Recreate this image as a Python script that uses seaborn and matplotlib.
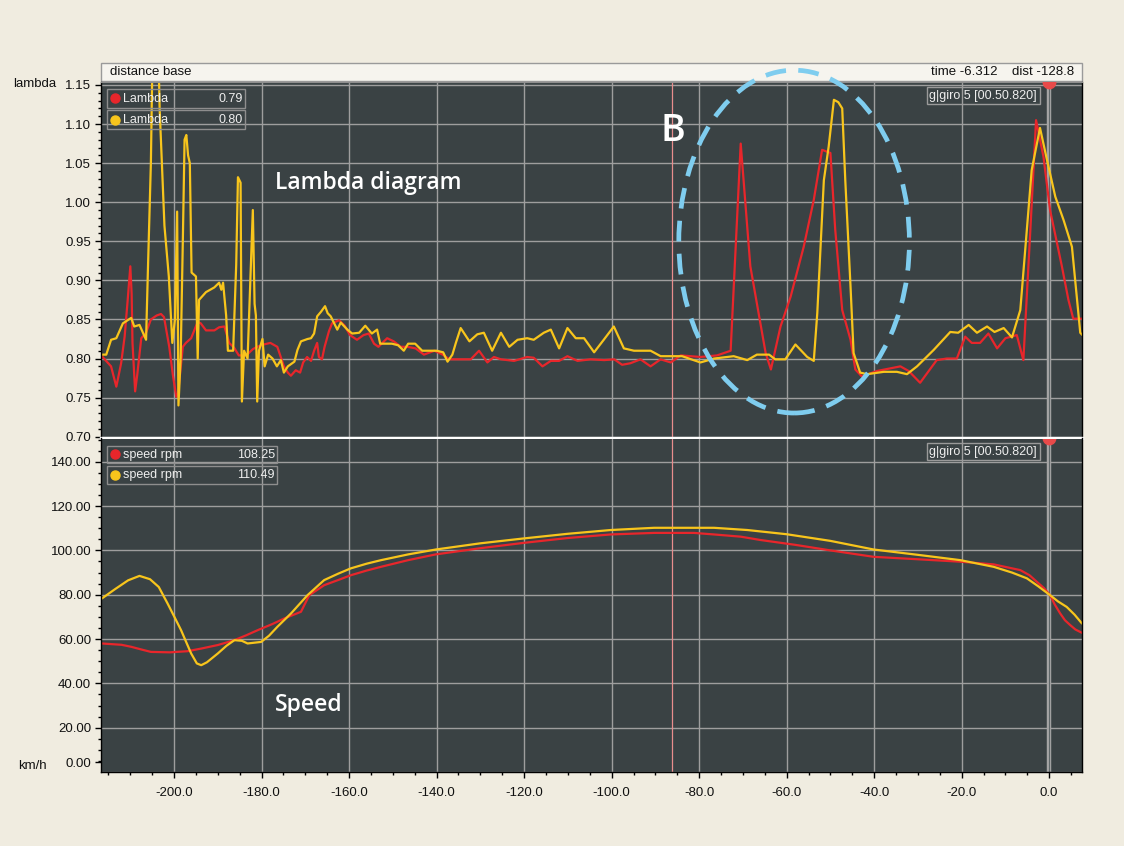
import numpy as np
import seaborn as sns
import matplotlib.pyplot as plt
from matplotlib import transforms
from matplotlib.lines import Line2D
from matplotlib.patches import Rectangle, Ellipse
from matplotlib.ticker import MultipleLocator, FormatStrFormatter

# ---- lambda traces (distance [m], lambda) ----
lam_red_x = [-216.5, -214.4, -213.2, -212.1, -211.3, -210.6, -210.0, -209.7, -209.5, -208.9,
             -208.4, -207.5, -206.4, -205.3, -204.0, -203.0, -202.3, -201.1, -200.3, -199.5,
             -199.1, -198.0, -197.3, -196.1, -194.6, -193.9, -192.7, -190.8, -189.7, -188.5,
             -187.4, -186.3, -185.2, -183.5, -182.0, -181.0, -179.5, -178.0, -176.4, -174.9,
             -174.0, -173.3, -172.2, -171.2, -170.5, -169.6, -168.7, -168.0, -167.3, -166.9,
             -166.2, -165.6, -164.6, -163.9, -162.3, -161.0, -159.8, -158.2, -156.7, -155.5,
             -154.3, -153.3, -151.3, -149.8, -148.2, -146.7, -144.8, -142.9, -140.5, -138.6,
             -137.1, -134.5, -132.2, -130.3, -128.4, -126.9, -125.3, -122.3, -119.3, -117.8,
             -115.8, -113.9, -112.0, -110.1, -107.8, -104.8, -101.7, -99.4, -97.6, -95.7,
             -93.4, -91.1, -88.8, -86.5, -84.2, -79.7, -75.9, -72.8, -70.5, -68.3,
             -64.8, -63.6, -61.4, -59.1, -56.1, -53.8, -51.9, -50.0, -48.9, -47.3,
             -45.4, -44.3, -42.8, -39.4, -34.0, -32.1, -29.5, -25.7, -23.4, -21.1,
             -19.2, -17.7, -15.8, -13.9, -11.9, -10.0, -7.4, -5.9, -4.3, -3.0,
             -1.3, 0.2, 2.9, 4.4, 5.5, 7.6]
lam_red_y = [0.803, 0.790, 0.764, 0.794, 0.828, 0.875, 0.918, 0.883, 0.820, 0.758,
             0.780, 0.826, 0.833, 0.850, 0.855, 0.857, 0.853, 0.815, 0.780, 0.751,
             0.755, 0.815, 0.820, 0.826, 0.847, 0.845, 0.836, 0.836, 0.840, 0.841,
             0.820, 0.814, 0.804, 0.804, 0.812, 0.815, 0.818, 0.820, 0.815, 0.790,
             0.782, 0.778, 0.785, 0.782, 0.795, 0.802, 0.797, 0.810, 0.820, 0.802,
             0.799, 0.815, 0.835, 0.845, 0.849, 0.842, 0.830, 0.824, 0.830, 0.832,
             0.819, 0.815, 0.826, 0.822, 0.815, 0.815, 0.813, 0.805, 0.810, 0.805,
             0.799, 0.799, 0.799, 0.810, 0.795, 0.802, 0.799, 0.797, 0.802, 0.801,
             0.790, 0.797, 0.797, 0.803, 0.797, 0.799, 0.798, 0.799, 0.792, 0.794,
             0.799, 0.790, 0.799, 0.795, 0.804, 0.802, 0.804, 0.810, 1.075, 0.918,
             0.807, 0.786, 0.841, 0.879, 0.943, 1.003, 1.067, 1.063, 0.965, 0.862,
             0.824, 0.786, 0.777, 0.784, 0.790, 0.784, 0.769, 0.798, 0.800, 0.800,
             0.828, 0.820, 0.820, 0.832, 0.813, 0.826, 0.830, 0.798, 0.965, 1.105,
             1.058, 0.990, 0.918, 0.875, 0.851, 0.851]

lam_yel_x = [-216.5, -215.5, -214.4, -213.2, -211.7, -209.8, -209.1, -207.9, -206.4, -206.0,
             -205.3, -204.9, -203.6, -203.3, -202.8, -202.2, -201.2, -200.4, -199.8, -199.3,
             -199.0, -198.5, -198.0, -197.6, -197.2, -196.8, -196.4, -196.0, -195.0, -194.6,
             -194.3, -192.7, -190.8, -189.7, -189.2, -188.8, -188.1, -187.7, -186.5, -185.8,
             -185.4, -184.8, -184.5, -184.0, -183.2, -182.0, -181.6, -181.3, -181.0, -180.6,
             -179.8, -179.3, -178.5, -177.5, -176.5, -175.6, -174.9, -174.0, -172.5, -171.8,
             -171.0, -169.5, -168.7, -168.0, -167.3, -166.4, -165.5, -164.9, -164.2, -163.4,
             -162.7, -161.9, -160.4, -159.3, -157.7, -156.3, -154.8, -153.6, -152.9, -150.2,
             -148.8, -147.5, -146.5, -144.9, -143.3, -140.0, -138.5, -137.5, -136.4, -135.6,
             -134.5, -132.5, -130.7, -129.2, -127.3, -125.3, -123.4, -121.5, -119.3, -117.8,
             -115.5, -113.9, -112.0, -110.1, -108.2, -106.3, -104.0, -101.8, -99.5, -97.2,
             -94.9, -91.1, -88.8, -83.9, -79.7, -76.6, -72.1, -69.0, -66.8, -64.0,
             -62.6, -60.3, -58.0, -55.3, -53.8, -53.0, -51.5, -50.4, -49.2, -48.2,
             -47.3, -46.6, -45.4, -44.7, -43.2, -41.6, -37.8, -34.8, -32.5, -30.2,
             -26.4, -22.6, -20.8, -18.4, -16.5, -14.2, -12.5, -10.4, -8.5, -6.6,
             -5.1, -4.0, -2.1, -0.5, 1.4, 3.3, 5.2, 6.3, 7.1, 7.6]
lam_yel_y = [0.805, 0.805, 0.824, 0.826, 0.845, 0.852, 0.841, 0.843, 0.824, 0.909,
             1.050, 1.200, 1.200, 1.120, 1.052, 0.970, 0.905, 0.820, 0.850, 0.988,
             0.740, 0.800, 0.950, 1.080, 1.086, 1.060, 1.050, 0.910, 0.905, 0.800,
             0.875, 0.885, 0.891, 0.897, 0.888, 0.897, 0.855, 0.810, 0.810, 0.920,
             1.032, 1.025, 0.745, 0.810, 0.800, 0.990, 0.870, 0.855, 0.745, 0.810,
             0.825, 0.790, 0.805, 0.800, 0.790, 0.798, 0.782, 0.790, 0.796, 0.811,
             0.822, 0.825, 0.826, 0.832, 0.854, 0.860, 0.867, 0.858, 0.854, 0.845,
             0.837, 0.846, 0.837, 0.832, 0.833, 0.842, 0.832, 0.837, 0.819, 0.819,
             0.817, 0.810, 0.819, 0.819, 0.810, 0.810, 0.808, 0.796, 0.805, 0.820,
             0.839, 0.822, 0.831, 0.833, 0.810, 0.833, 0.815, 0.824, 0.826, 0.824,
             0.833, 0.837, 0.813, 0.839, 0.826, 0.826, 0.808, 0.824, 0.841, 0.813,
             0.810, 0.810, 0.803, 0.803, 0.795, 0.800, 0.803, 0.798, 0.805, 0.805,
             0.799, 0.799, 0.818, 0.802, 0.797, 0.858, 1.028, 1.071, 1.131, 1.128,
             1.120, 1.028, 0.892, 0.807, 0.782, 0.780, 0.783, 0.783, 0.780, 0.790,
             0.811, 0.834, 0.833, 0.843, 0.833, 0.841, 0.834, 0.839, 0.827, 0.862,
             0.965, 1.041, 1.095, 1.054, 1.007, 0.977, 0.943, 0.879, 0.833, 0.830]

# ---- speed traces (distance [m], km/h) ----
spd_red_x = [-216.5, -212.0, -209.8, -207.5, -205.3, -201.0, -197.0, -193.8, -190.0, -186.2,
             -183.5, -180.9, -177.5, -174.8, -171.0, -169.1, -165.7, -162.0, -159.6, -156.0,
             -152.7, -146.5, -140.2, -130.0, -120.1, -110.0, -100.2, -90.3, -81.2, -76.6,
             -70.5, -66.0, -58.0, -50.0, -40.1, -30.0, -20.3, -12.7, -6.6, -4.5,
             -2.8, -1.2, 0.2, 1.3, 2.5, 3.6, 4.8, 6.0, 7.5]
spd_red_y = [58.0, 57.4, 56.5, 55.3, 54.2, 54.0, 54.5, 55.7, 57.3, 59.5,
             61.7, 64.0, 66.8, 69.3, 72.3, 79.8, 84.3, 87.0, 88.8, 90.9,
             92.6, 95.6, 98.2, 101.0, 103.4, 105.6, 107.2, 107.9, 107.9, 107.2,
             106.2, 104.7, 102.5, 100.0, 97.1, 96.0, 94.9, 93.7, 91.1, 88.8,
             85.8, 83.0, 79.8, 75.5, 71.6, 68.5, 66.3, 64.3, 62.8]

spd_yel_x = [-216.5, -213.5, -210.5, -207.9, -205.5, -203.5, -201.5, -199.8, -198.4, -197.2,
             -196.1, -194.8, -193.8, -192.5, -190.0, -188.0, -186.2, -184.5, -183.2, -180.1,
             -178.3, -176.4, -173.3, -169.5, -165.7, -162.5, -159.6, -156.0, -152.7, -146.5,
             -140.2, -130.0, -120.1, -110.0, -100.2, -90.3, -76.6, -69.0, -60.0, -50.0,
             -40.1, -30.0, -20.3, -12.7, -8.5, -5.1, -2.5, 0.2, 2.0, 4.0,
             5.8, 7.5]
spd_yel_y = [78.3, 82.5, 86.5, 88.5, 87.0, 83.5, 76.1, 69.5, 64.0, 58.5,
             53.5, 49.0, 48.2, 49.5, 53.5, 57.0, 59.5, 59.2, 58.0, 58.7,
             61.5, 65.5, 71.5, 79.8, 86.6, 89.5, 91.9, 94.0, 95.6, 98.2,
             100.4, 103.2, 105.4, 107.5, 109.2, 110.2, 110.2, 109.2, 107.3, 104.3,
             100.4, 98.0, 95.6, 92.6, 90.0, 87.4, 83.8, 79.8, 77.0, 74.5,
             71.0, 67.0]

lam_ticks = [0.70, 0.75, 0.80, 0.85, 0.90, 0.95, 1.00, 1.05, 1.10, 1.15]
spd_ticks = [0, 20, 40, 60, 80, 100, 120, 140]
dist_ticks = [-200, -180, -160, -140, -120, -100, -80, -60, -40, -20, 0]

RED = '#e8262b'
YEL = '#f8c51c'
PANEL = '#3a4244'
GRID = '#9e9e9e'
BEIGE = '#f0ece0'

sns.set_style('ticks')
plt.rcParams['font.family'] = ['Liberation Sans', 'DejaVu Sans']
plt.rcParams['axes.unicode_minus'] = False

W, H = 1124, 846
fig = plt.figure(figsize=(W / 100, H / 100), dpi=100, facecolor=BEIGE)


def fx(px):
    return px / W


def fy(py):
    return 1 - py / H


ax1 = fig.add_axes([fx(101), fy(438.5), fx(1082) - fx(101), fy(82) - fy(438.5)])
ax2 = fig.add_axes([fx(101), fy(772), fx(1082) - fx(101), fy(438.5) - fy(772)], sharex=ax1)

for ax in (ax1, ax2):
    ax.set_facecolor(PANEL)
    ax.set_axisbelow(True)
    ax.grid(True, which='major', color=GRID, lw=1)
    ax.tick_params(which='major', direction='out', length=4, width=1, color='black',
                   labelsize=9.5, labelcolor='#111111', left=True, bottom=True, pad=3)
    ax.tick_params(which='minor', direction='out', length=2.5, width=1, color='black',
                   left=True, bottom=True)
    for s in ('left', 'right', 'bottom'):
        ax.spines[s].set_color('black')
        ax.spines[s].set_linewidth(1)
    # marker lines: reference lap position and cursor
    ax.axvline(-86.1, color='#e98d8d', lw=0.9, zorder=1.5)
    ax.axvline(0, color='#a5a5a5', lw=3.2, zorder=1.6)
    ax.axvline(0, color='#60686a', lw=0.8, zorder=1.7)

# lambda panel
sns.lineplot(x=lam_red_x, y=lam_red_y, ax=ax1, color=RED, lw=1.6, estimator=None, sort=False)
sns.lineplot(x=lam_yel_x, y=lam_yel_y, ax=ax1, color=YEL, lw=1.6, estimator=None, sort=False)
ax1.set_xlim(-216.7, 7.5)
ax1.set_ylim(0.6977, 1.1538)
ax1.set_yticks(lam_ticks)
ax1.yaxis.set_major_formatter(FormatStrFormatter('%.2f'))
ax1.yaxis.set_minor_locator(MultipleLocator(0.01))
ax1.tick_params(axis='x', which='both', bottom=False, labelbottom=False)
ax1.spines['bottom'].set_color('white')
ax1.spines['bottom'].set_linewidth(2.4)
ax1.spines['bottom'].set_zorder(10)
ax1.spines['top'].set_color('#8e8e8e')
ax1.set_xlabel('')
ax1.set_ylabel('')
ax1.scatter([0], [1.1538], s=80, color='#e84a4a', zorder=6, clip_on=True)

# speed panel
sns.lineplot(x=spd_red_x, y=spd_red_y, ax=ax2, color=RED, lw=1.6, estimator=None, sort=False)
sns.lineplot(x=spd_yel_x, y=spd_yel_y, ax=ax2, color=YEL, lw=1.6, estimator=None, sort=False)
ax2.set_ylim(0, 150.5)
ax2.set_yticks(spd_ticks)
ax2.yaxis.set_major_formatter(FormatStrFormatter('%.2f'))
ax2.yaxis.set_minor_locator(MultipleLocator(5))
ax2.set_xticks(dist_ticks)
ax2.xaxis.set_major_formatter(FormatStrFormatter('%.1f'))
ax2.xaxis.set_minor_locator(MultipleLocator(5))
ax2.tick_params(axis='x', pad=7)
ax2.spines['top'].set_visible(False)
ax2.set_xlabel('')
ax2.set_ylabel('')
ax2.scatter([0], [150.5], s=80, color='#e84a4a', zorder=6, clip_on=True)
ax1.set_xlim(-216.7, 7.5)

# lift the 0.00 label and tick like the original software does
shift = transforms.ScaledTranslation(0, 10 / 100, fig.dpi_scale_trans)
t0 = ax2.yaxis.get_major_ticks()[0]
t0.label1.set_transform(t0.label1.get_transform() + shift)
t0.tick1line.set_transform(t0.tick1line.get_transform() + shift)

# header strip
fig.patches.append(Rectangle((fx(101), fy(81)), fx(1082) - fx(101), fy(63) - fy(81),
                             transform=fig.transFigure, facecolor='#f6f4ee', edgecolor='#9a9a9a',
                             lw=1, zorder=-1))
fig.text(fx(110), fy(72), 'distance base', fontsize=9.5, va='center', ha='left', color='#111111')
fig.text(fx(1074), fy(72), 'time -6.312    dist -128.8', fontsize=9.5, va='center', ha='right',
         color='#111111')

fig.text(fx(13), fy(84), 'lambda', fontsize=9.5, va='center', ha='left', color='#111111')
fig.text(fx(18), fy(766), 'km/h', fontsize=9.5, va='center', ha='left', color='#111111')


def legend_box(px0, px1, py0, py1, color, label, value):
    fig.patches.append(Rectangle((fx(px0), fy(py1)), fx(px1) - fx(px0), fy(py0) - fy(py1),
                                 transform=fig.transFigure, fill=False, edgecolor='#8e8e8e',
                                 lw=1, zorder=5))
    mid = (py0 + py1) / 2
    fig.add_artist(Line2D([fx(px0 + 8)], [fy(mid)], marker='o', ms=6.5, color=color,
                          transform=fig.transFigure, zorder=6))
    fig.text(fx(px0 + 16), fy(mid), label, fontsize=9, va='center', ha='left', color='#eeeeee',
             zorder=6)
    fig.text(fx(px1 - 2), fy(mid), value, fontsize=9, va='center', ha='right', color='#eeeeee',
             zorder=6)


legend_box(107, 245, 89, 108, RED, 'Lambda', '0.79')
legend_box(107, 245, 110, 129, YEL, 'Lambda', '0.80')
legend_box(107, 277, 446, 463, RED, 'speed rpm', '108.25')
legend_box(107, 277, 466, 484, YEL, 'speed rpm', '110.49')

for top in (87, 443):
    fig.patches.append(Rectangle((fx(927), fy(top + 17)), fx(1040) - fx(927), fy(top) - fy(top + 17),
                                 transform=fig.transFigure, fill=False, edgecolor='#9a9a9a',
                                 lw=1, zorder=5))
    fig.text(fx(929), fy(top + 8.5), 'g|giro 5 [00.50.820]', fontsize=9, va='center',
             ha='left', color='#eeeeee', zorder=6)

# annotation overlays
fig.text(fx(275), fy(183), 'Lambda diagram', fontsize=16.5, fontweight='semibold',
         family=['Open Sans', 'DejaVu Sans'], color='white', va='center', ha='left', zorder=7)
fig.text(fx(275), fy(705), 'Speed', fontsize=16.5, fontweight='semibold',
         family=['Open Sans', 'DejaVu Sans'], color='white', va='center', ha='left', zorder=7)
fig.text(fx(660), fy(131), 'B', fontsize=27, fontweight='semibold',
         family=['Open Sans', 'DejaVu Sans'], color='white', va='center', ha='left', zorder=7)

ax1.add_patch(Ellipse((-58.3, 0.9496), 52.7, 0.4386, fill=False, edgecolor='#7fcdef', lw=3.4,
                      linestyle=(0, (4.4, 2.6)), clip_on=False, zorder=10))

fig.savefig('out.png', dpi=100, facecolor=BEIGE)
